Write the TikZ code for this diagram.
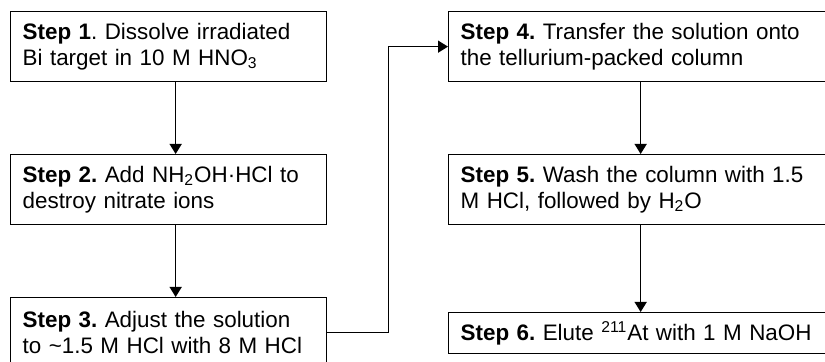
\documentclass[tikz,border=0pt]{standalone}
\usepackage{fontspec}
\setmainfont{Liberation Sans}
\usetikzlibrary{arrows.meta}
\frenchspacing
\tikzstyle{box}=[draw, line width=0.65pt, anchor=north west, align=left, inner xsep=6pt, inner ysep=0pt, font=\fontsize{11.2}{13}\selectfont]
\tikzstyle{box-left}=[box, text width=146pt, minimum height=35pt]
\tikzstyle{box-right}=[box, text width=180pt, minimum height=35pt]
\tikzstyle{box-last}=[box, text width=190pt, minimum height=20.5pt]
\tikzstyle{flow}=[-{Triangle[length=5pt,width=6pt]}, line width=0.65pt]

\begin{document}
\begin{tikzpicture}[x=0.5pt, y=-0.5pt]
	\clip (0,0) rectangle (825,362);
	% nodes
	 \node [box-left] (a) at (10,11) {\textbf{Step 1}. Dissolve irradiated\\Bi target in 10 M HNO\textsubscript{3}};
	 \node [box-left] (b) at (10,154) {\textbf{Step 2.} Add NH\textsubscript{2}OH·HCl to\\destroy nitrate ions};
	 \node [box-left] (c) at (10,297) {\textbf{Step 3.} Adjust the solution\\to \textasciitilde1.5 M HCl with 8 M HCl};
	 \node [box-right] (d) at (448,11) {\textbf{Step 4.} Transfer the solution onto\\the tellurium-packed column};
	 \node [box-right] (e) at (448,154) {\textbf{Step 5.} Wash the column with 1.5\\M HCl, followed by H\textsubscript{2}O};
	 \node [box-last] (f) at (448,312) {\textbf{Step 6.} Elute \textsuperscript{211}At with 1 M NaOH};

	 % arrows
	 \draw [flow] ([xshift=3.5pt]a.south) -- ([xshift=3.5pt]b.north);
	 \draw [flow] ([xshift=3.5pt]b.south) -- ([xshift=3.5pt]c.north);
	 \draw [flow] (d) -- (e);
	 \draw [flow] (e) -- (e |- f.north);

	 \draw [flow] (c.east) -- ++(61,0) |- (d.west);
\end{tikzpicture}
\end{document}
